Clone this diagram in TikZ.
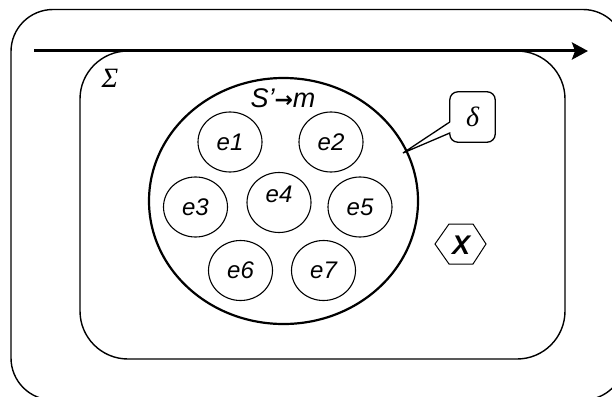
\documentclass[tikz,border=0pt]{standalone}
\usepackage{fontspec}
\setmainfont{Liberation Sans}
\newfontfamily\serifgreek{Liberation Serif}
\newfontfamily\arrowfont{DejaVu Sans}
\usetikzlibrary{arrows.meta,shapes.geometric,calc}
\begin{document}
\begin{tikzpicture}[x=1pt,y=-1pt,
  ell/.style={draw,ellipse,line width=1.1pt,minimum width=64pt,minimum height=60pt,inner sep=0pt,font=\fontsize{24}{28}\selectfont\itshape},
  lbl/.style={inner sep=0pt,font=\fontsize{24}{28}\selectfont\itshape},
  frame/.style={draw,line width=1.4pt},
  greek/.style={inner sep=0pt,font=\fontsize{28}{32}\selectfont\serifgreek\itshape}]
\useasboundingbox (0,0) rectangle (612,396);
\clip (0,0) rectangle (612,396);
% outer frame
\draw[frame,rounded corners=42pt] (11,9.5) rectangle (625,400);
% inner frame
\draw[frame,rounded corners=48pt] (80,51) rectangle (565,359);
% time arrow
\coordinate (a0) at (34,51);
\coordinate (a1) at (588,51);
\draw[line width=3pt,-{Stealth[length=16pt,width=17pt,inset=3pt]}] (a0) -- (a1);
% Sigma
\node[greek] (sigma) at (110,78) {Σ};
% big circle
\node[draw,ellipse,line width=2.2pt,minimum width=269pt,minimum height=246pt,inner sep=0pt] (big) at (283.5,201) {};
\node[inner sep=0pt,font=\fontsize{27}{30}\selectfont\itshape] (sm) at (283,98) {S’{\arrowfont\bfseries\upshape\fontsize{22}{24}\selectfont →}m};
% elements
\node[ell] (e1) at (230,142) {e1};
\node[ell] (e2) at (331,142) {e2};
\node[ell] (e3) at (195.5,207) {e3};
\node[ell] (e4) at (279,202.5) {};
\node[lbl] (e4t) at (279,194) {e4};
\node[ell] (e5) at (360,207) {e5};
\node[ell] (e6) at (240.5,270.5) {e6};
\node[ell] (e7) at (323.5,270.5) {e7};
% delta callout
\node[greek,minimum width=45pt,minimum height=50pt] (delta) at (472.5,117) {δ};
\coordinate (tip) at (403,153);
\draw[line width=1.3pt,line join=miter] ($(delta.west)+(0,5)$) -- (tip) -- ($(delta.west)+(0,16)$)
  [rounded corners=8pt] -- (delta.south west) -- (delta.south east) -- (delta.north east) -- (delta.north west) [sharp corners] -- ($(delta.west)+(0,5)$);
% X hexagon
\node[inner sep=0pt,font=\fontsize{27}{30}\selectfont\bfseries\itshape] (x) at (461,245) {X};
\draw[line width=1pt] ($(x.center)+(-26,-1)$) -- ($(x.center)+(-12,-21)$) -- ($(x.center)+(12,-21)$) -- ($(x.center)+(25,-1)$) -- ($(x.center)+(12,19)$) -- ($(x.center)+(-12,19)$) -- cycle;
\end{tikzpicture}
\end{document}
